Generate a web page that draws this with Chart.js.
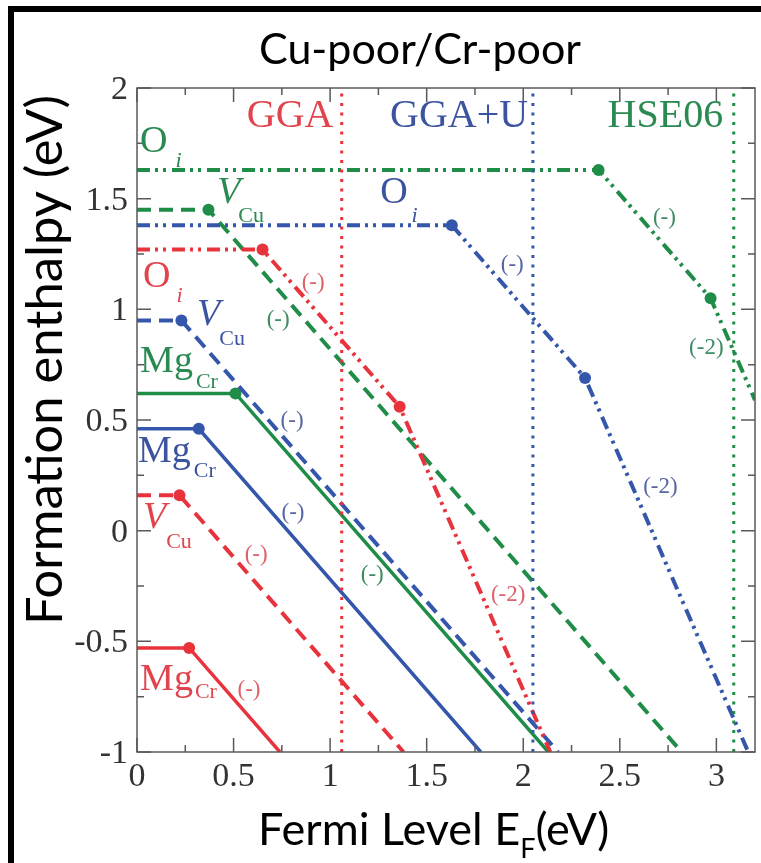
<!DOCTYPE html>
<html>
<head>
<meta charset="utf-8">
<script src="https://cdn.jsdelivr.net/npm/chart.js@4"></script>
<style>
  html,body{margin:0;padding:0;background:#fff;}
  #wrap{width:761px;height:863px;position:relative;}
</style>
</head>
<body>
<div id="wrap"><canvas id="chart" width="761" height="863"></canvas></div>
<script>
// axis ticks
const xTicks = [0, 0.5, 1, 1.5, 2, 2.5, 3];
const xTickLabels = ['0', '0.5', '1', '1.5', '2', '2.5', '3'];
const yTicks = [-1, -0.5, 0, 0.5, 1, 1.5, 2];
const yTickLabels = ['-1', '-0.5', '0', '0.5', '1', '1.5', '2'];

// GGA
const ggaMg_x  = [0, 0.27, 0.74],        ggaMg_y  = [-0.53, -0.53, -1];
const ggaVcu_x = [0, 0.22, 1.38],        ggaVcu_y = [0.16, 0.16, -1];
const ggaOi_x  = [0, 0.65, 1.36, 2.14],  ggaOi_y  = [1.27, 1.27, 0.56, -1];
// GGA+U
const gguMg_x  = [0, 0.32, 1.78],        gguMg_y  = [0.46, 0.46, -1];
const gguVcu_x = [0, 0.23, 2.18],        gguVcu_y = [0.95, 0.95, -1];
const gguOi_x  = [0, 1.63, 2.32, 3.165], gguOi_y  = [1.38, 1.38, 0.69, -1];
// HSE06
const hseMg_x  = [0, 0.51, 2.13],        hseMg_y  = [0.62, 0.62, -1];
const hseVcu_x = [0, 0.37, 2.82],        hseVcu_y = [1.45, 1.45, -1];
const hseOi_x  = [0, 2.39, 2.97, 3.2],   hseOi_y  = [1.63, 1.63, 1.05, 0.59];
// band gaps (vertical dotted lines)
const gapGGA = 1.06, gapGGAU = 2.05, gapHSE = 3.09;

const CLR  = { gga:'#e8333d', ggu:'#3456ab', hse:'#1f8c48' };
const TXT  = { gga:'#e2444e', ggu:'#3c54a0', hse:'#2a8a52' };
const NOTE = { gga:'#e0606a', ggu:'#5867a3', hse:'#3f8c63' };

const DASH = [14, 8];
const DDOT = [13, 5, 3, 5, 3, 6];
const DOTS = [3, 6.5];
const SERIF = '"Liberation Serif", "Times New Roman", serif';

// method labels at the top
const bandNames = ['GGA', 'GGA+U', 'HSE06'];
const bandX = [0.793, 1.668, 2.736];
const bandKeys = ['gga', 'ggu', 'hse'];

// defect labels: main text, subscript, position (data), colour key
const defLabels = [
  { t:'O',  s:'i',  x:0.016, y:1.713, k:'hse', it:false, sit:true,  dx:8,  dy:15 },
  { t:'V',  s:'Cu', x:0.415, y:1.482, k:'hse', it:true,  sit:false, dx:-2, dy:19 },
  { t:'O',  s:'i',  x:1.259, y:1.482, k:'ggu', it:false, sit:true,  dx:4,  dy:19 },
  { t:'O',  s:'i',  x:0.031, y:1.103, k:'gga', it:false, sit:true,  dx:6,  dy:15 },
  { t:'V',  s:'Cu', x:0.311, y:0.931, k:'ggu', it:true,  sit:false, dx:-1, dy:20 },
  { t:'Mg', s:'Cr', x:0.016, y:0.718, k:'hse', it:false, sit:false, dx:3,  dy:16 },
  { t:'Mg', s:'Cr', x:0.005, y:0.308, k:'ggu', it:false, sit:false, dx:3,  dy:15 },
  { t:'V',  s:'Cu', x:0.031, y:0.014, k:'gga', it:true,  sit:false, dx:0,  dy:20 },
  { t:'Mg', s:'Cr', x:0.016, y:-0.718,k:'gga', it:false, sit:false, dx:2,  dy:8 }
];

// charge-state notes
const chargeText = ['(-)','(-)','(-)','(-)','(-2)','(-2)','(-2)','(-)','(-)','(-)','(-)','(-)'];
const chargeX = [0.912, 0.731, 1.943, 2.731, 2.948, 2.710, 1.922, 0.803, 0.808, 1.218, 0.617, 0.580];
const chargeY = [1.120, 0.953, 1.202, 1.414, 0.827, 0.199, -0.289, 0.497, 0.081, -0.199, -0.108, -0.718];
const chargeKey = ['gga','hse','ggu','hse','hse','ggu','gga','ggu','ggu','hse','gga','gga'];

function series(xs, ys, color, dash, width){
  return {
    data: xs.map((x,i)=>({x, y:ys[i]})),
    showLine:true, borderColor:color, backgroundColor:color,
    borderWidth:width, borderDash:dash, tension:0, fill:false,
    pointRadius: xs.map((_,i)=> (i===0 || i===xs.length-1) ? 0 : 6),
    pointBorderWidth:0, pointHoverRadius:0
  };
}
function vline(x, color){
  return { data:[{x, y:-1},{x, y:2}], showLine:true, borderColor:color, borderWidth:3,
           borderDash:DOTS, pointRadius:0, fill:false };
}

function subText(ctx, main, sub, px, py, color, size, subSize, it, sit, dx, dy){
  ctx.fillStyle = color;
  ctx.textAlign = 'left'; ctx.textBaseline = 'alphabetic';
  ctx.font = (it ? 'italic ' : '') + size + 'px ' + SERIF;
  ctx.fillText(main, px, py);
  const w = ctx.measureText(main).width;
  ctx.font = (sit ? 'italic ' : '') + subSize + 'px ' + SERIF;
  ctx.fillText(sub, px + w + dx, py + dy);
}

const overlay = {
  id:'overlay',
  afterDraw(chart){
    const { ctx, chartArea:a, scales:{ x, y } } = chart;
    ctx.save();
    // axes box
    ctx.strokeStyle = '#5a5a5a'; ctx.lineWidth = 1.5;
    ctx.strokeRect(a.left, a.top, a.right - a.left, a.bottom - a.top);
    // inward ticks, major + minor on all sides
    const tick = (vals, len) => {
      vals.forEach(v => {
        if (v >= x.min && v <= x.max){
          const p = x.getPixelForValue(v);
          ctx.beginPath(); ctx.moveTo(p, a.bottom); ctx.lineTo(p, a.bottom - len);
          ctx.moveTo(p, a.top); ctx.lineTo(p, a.top + len); ctx.stroke();
        }
      });
    };
    const tickY = (vals, len) => {
      vals.forEach(v => {
        const p = y.getPixelForValue(v);
        ctx.beginPath(); ctx.moveTo(a.left, p); ctx.lineTo(a.left + len, p);
        ctx.moveTo(a.right, p); ctx.lineTo(a.right - len, p); ctx.stroke();
      });
    };
    tick(xTicks, 14); tickY(yTicks, 14);
    tick(xTicks.map(v => v + 0.25), 7); tickY(yTicks.slice(0,-1).map(v => v + 0.25), 7);

    // tick labels (serif, as in the original plot)
    ctx.fillStyle = '#333';
    ctx.font = '34px ' + SERIF;
    ctx.textAlign = 'center'; ctx.textBaseline = 'middle';
    x.ticks.forEach((t,i) => ctx.fillText(xTickLabels[i], x.getPixelForValue(t.value), a.bottom + 25));
    ctx.textAlign = 'right';
    y.ticks.forEach((t,i) => ctx.fillText(yTickLabels[i], a.left - 9, y.getPixelForValue(t.value) + 2));

    // method names
    ctx.textAlign = 'center'; ctx.textBaseline = 'alphabetic';
    ctx.font = '40px ' + SERIF;
    bandNames.forEach((n,i) => {
      ctx.fillStyle = TXT[bandKeys[i]];
      ctx.fillText(n, x.getPixelForValue(bandX[i]), y.getPixelForValue(1.826));
    });
    // defect labels
    defLabels.forEach(l => {
      subText(ctx, l.t, l.s, x.getPixelForValue(l.x), y.getPixelForValue(l.y),
              TXT[l.k], 38, 22, l.it, l.sit, l.dx, l.dy);
    });
    // charge states
    ctx.textAlign = 'center'; ctx.textBaseline = 'middle';
    ctx.font = '23px ' + SERIF;
    chargeText.forEach((t,i) => {
      ctx.fillStyle = NOTE[chargeKey[i]];
      ctx.fillText(t, x.getPixelForValue(chargeX[i]), y.getPixelForValue(chargeY[i]));
    });

    // titles
    ctx.fillStyle = '#000'; ctx.textBaseline = 'alphabetic';
    const fit = (txt, w) => {
      ctx.font = '40px Lato';
      return 40 * w / ctx.measureText(txt).width;
    };
    let fs = fit('Cu-poor/Cr-poor', 322);
    ctx.font = fs + 'px Lato'; ctx.textAlign = 'center';
    ctx.fillText('Cu-poor/Cr-poor', 420, 64);

    fs = fit('Formation enthalpy (eV)', 530);
    ctx.save();
    ctx.translate(62, 360); ctx.rotate(-Math.PI/2);
    ctx.font = fs + 'px Lato'; ctx.textAlign = 'center';
    ctx.fillText('Formation enthalpy (eV)', 0, 0);
    ctx.restore();

    fs = fit('Fermi Level E(eV)', 336);
    ctx.textAlign = 'left';
    ctx.font = fs + 'px Lato';
    let px = 258;
    ctx.fillText('Fermi Level E', px, 845);
    px += ctx.measureText('Fermi Level E').width;
    ctx.font = (fs * 0.6) + 'px Lato';
    ctx.fillText('F', px, 858);
    px += ctx.measureText('F').width;
    ctx.font = fs + 'px Lato';
    ctx.fillText('(eV)', px, 845);

    // outer frame
    ctx.fillStyle = '#000';
    ctx.fillRect(8, 6, 6, 863 - 6);
    ctx.fillRect(8, 6, 761 - 8, 6);
    ctx.restore();
  }
};

new Chart(document.getElementById('chart'), {
  type:'scatter',
  data:{ datasets:[
    vline(gapGGA, CLR.gga), vline(gapGGAU, CLR.ggu), vline(gapHSE, CLR.hse),
    series(ggaMg_x, ggaMg_y, CLR.gga, [], 3.5),
    series(ggaVcu_x, ggaVcu_y, CLR.gga, DASH, 4),
    series(ggaOi_x, ggaOi_y, CLR.gga, DDOT, 4),
    series(gguMg_x, gguMg_y, CLR.ggu, [], 3.5),
    series(gguVcu_x, gguVcu_y, CLR.ggu, DASH, 4),
    series(gguOi_x, gguOi_y, CLR.ggu, DDOT, 4),
    series(hseMg_x, hseMg_y, CLR.hse, [], 3.5),
    series(hseVcu_x, hseVcu_y, CLR.hse, DASH, 4),
    series(hseOi_x, hseOi_y, CLR.hse, DDOT, 4)
  ]},
  options:{
    responsive:false, animation:false,
    layout:{ padding:{ top:88, right:6, left:0, bottom:0 } },
    plugins:{ legend:{ display:false }, tooltip:{ enabled:false } },
    scales:{
      x:{
        type:'linear', min:0, max:3.2,
        afterBuildTicks: s => { s.ticks = xTicks.map(v => ({ value:v })); },
        afterFit: s => { s.height = 111; },
        grid:{ display:false, drawTicks:false }, border:{ display:false },
        ticks:{ display:false }
      },
      y:{
        type:'linear', min:-1, max:2,
        afterBuildTicks: s => { s.ticks = yTicks.map(v => ({ value:v })); },
        afterFit: s => { s.width = 137; },
        grid:{ display:false, drawTicks:false }, border:{ display:false },
        ticks:{ display:false }
      }
    }
  },
  plugins:[overlay]
});
</script>
</body>
</html>
